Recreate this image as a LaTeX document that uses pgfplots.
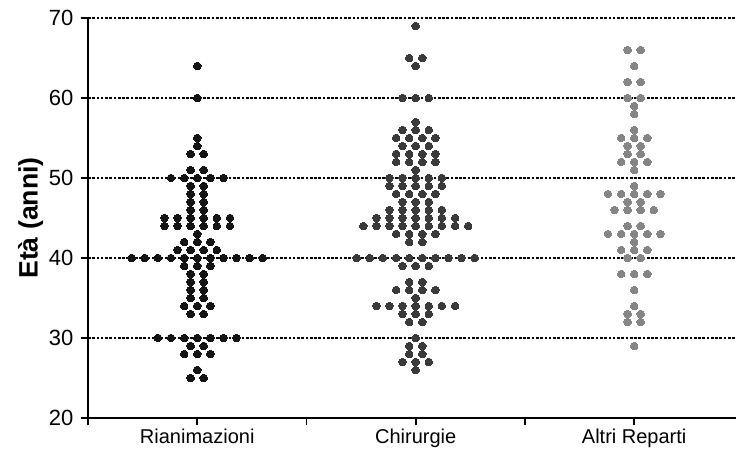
\documentclass[border=0pt]{standalone}
\usepackage{fontspec}
\setmainfont{Liberation Sans}
\usepackage{pgfplots}
\pgfplotsset{compat=1.18}
\definecolor{cA}{HTML}{141414}
\definecolor{cB}{HTML}{3A3A3A}
\definecolor{cC}{HTML}{858585}
\begin{document}
\begin{tikzpicture}
\begin{axis}[
  scale only axis, width=486pt, height=300pt,
  xmin=-0.5, xmax=2.466, ymin=20, ymax=70,
  axis x line*=bottom, axis y line*=left,
  axis line style={line width=1.3pt,-},
  tick style={line width=1.3pt,black},
  tick align=outside, major tick length=5.5pt,
  xtick={0,1,2}, xticklabels={Rianimazioni,Chirurgie,Altri Reparti},
  extra x ticks={-0.5,0.5,1.5}, extra x tick labels={},
  extra x tick style={grid=none},
  ytick={20,30,40,50,60,70},
  ymajorgrids, grid style={black,line width=0.9pt,dash pattern=on 2pt off 1.2pt},
  yticklabel style={font=\fontsize{16.5}{18}\selectfont, xshift=-2pt},
  xticklabel style={font=\fontsize{15}{17}\selectfont, yshift=1pt},
  /pgf/number format/assume math mode=true,
  ylabel={Età (anni)},
  every axis y label/.style={at={(rel axis cs:0,0.5)}, rotate=90, anchor=center, yshift=43pt, font=\bfseries\fontsize{20}{23}\selectfont},
  clip=false,
]
\coordinate (bl) at (rel axis cs:0,0);
\coordinate (tr) at (rel axis cs:1,1);
\addplot[only marks, mark=*, mark size=2.85pt, mark options={fill=cA, draw=cA, line width=0pt}] coordinates {
(0,64)(0,60)(0,55)(0,54)
(-0.03,53)(0.03,53)
(-0.03,51)(0.03,51)
(-0.12,50)(-0.06,50)(0,50)(0.06,50)(0.12,50)
(-0.03,49)(0.03,49)(-0.03,48)(0.03,48)(-0.03,47)(0.03,47)(-0.03,46)(0.03,46)
(-0.15,45)(-0.09,45)(-0.03,45)(0.03,45)(0.09,45)(0.15,45)
(-0.15,44)(-0.09,44)(-0.03,44)(0.03,44)(0.09,44)(0.15,44)
(0,43)
(-0.06,42)(0,42)(0.06,42)
(-0.09,41)(-0.03,41)(0.03,41)(0.09,41)
(-0.30,40)(-0.24,40)(-0.18,40)(-0.12,40)(-0.06,40)(0,40)(0.06,40)(0.12,40)(0.18,40)(0.24,40)(0.30,40)
(-0.06,39)(0,39)(0.06,39)
(-0.03,38)(0.03,38)(-0.03,37)(0.03,37)(-0.03,36)(0.03,36)(-0.03,35)(0.03,35)
(-0.06,34)(0,34)(0.06,34)
(-0.03,33)(0.03,33)
(-0.18,30)(-0.12,30)(-0.06,30)(0,30)(0.06,30)(0.12,30)(0.18,30)
(-0.03,29)(0.03,29)
(-0.06,28)(0,28)(0.06,28)
(0,26)
(-0.03,25)(0.03,25)
};
\addplot[only marks, mark=*, mark size=2.85pt, mark options={fill=cB, draw=cB, line width=0pt}] coordinates {
(1,69)
(0.97,65)(1.03,65)
(1,64)
(0.94,60)(1,60)(1.06,60)
(1,57)
(0.94,56)(1,56)(1.06,56)
(0.91,55)(0.97,55)(1.03,55)(1.09,55)
(0.94,54)(1,54)(1.06,54)
(0.91,53)(0.97,53)(1.03,53)(1.09,53)
(0.91,52)(0.97,52)(1.03,52)(1.09,52)
(1,51)
(0.88,50)(0.94,50)(1,50)(1.06,50)(1.12,50)
(0.88,49)(0.94,49)(1,49)(1.06,49)(1.12,49)
(0.91,48)(0.97,48)(1.03,48)(1.09,48)
(0.94,47)(1,47)(1.06,47)
(0.88,46)(0.94,46)(1,46)(1.06,46)(1.12,46)
(0.82,45)(0.88,45)(0.94,45)(1,45)(1.06,45)(1.12,45)(1.18,45)
(0.76,44)(0.82,44)(0.88,44)(0.94,44)(1,44)(1.06,44)(1.12,44)(1.18,44)(1.24,44)
(0.91,43)(0.97,43)(1.03,43)(1.09,43)
(0.97,42)(1.03,42)
(0.73,40)(0.79,40)(0.85,40)(0.91,40)(0.97,40)(1.03,40)(1.09,40)(1.15,40)(1.21,40)(1.27,40)
(0.94,39)(1,39)(1.06,39)
(0.97,37)(1.03,37)
(0.91,36)(0.97,36)(1.03,36)(1.09,36)
(1,35)
(0.82,34)(0.88,34)(0.94,34)(1,34)(1.06,34)(1.12,34)(1.18,34)
(0.94,33)(1,33)(1.06,33)
(0.97,32)(1.03,32)
(1,30)
(0.97,29)(1.03,29)
(0.97,28)(1.03,28)
(0.94,27)(1,27)(1.06,27)
(1,26)
};
\addplot[only marks, mark=*, mark size=2.85pt, mark options={fill=cC, draw=cC, line width=0pt}] coordinates {
(1.97,66)(2.03,66)
(2,64)
(1.97,62)(2.03,62)
(1.97,60)(2.03,60)
(2,59)
(2,58)
(2,56)
(1.94,55)(2,55)(2.06,55)
(1.97,54)(2.03,54)
(1.97,53)(2.03,53)
(1.94,52)(2,52)(2.06,52)
(2,51)
(2,49)
(1.88,48)(1.94,48)(2,48)(2.06,48)(2.12,48)
(1.97,47)(2.03,47)
(1.91,46)(1.97,46)(2.03,46)(2.09,46)
(1.97,44)(2.03,44)
(1.88,43)(1.94,43)(2,43)(2.06,43)(2.12,43)
(2,42)
(1.94,41)(2,41)(2.06,41)
(1.97,40)(2.03,40)
(1.94,38)(2,38)(2.06,38)
(2,36)
(2,34)
(1.97,33)(2.03,33)
(1.97,32)(2.03,32)
(2,29)
};
\end{axis}
\pgfresetboundingbox
\path ([xshift=-66pt,yshift=-24pt]bl) rectangle ([yshift=13.5pt]tr);
\end{tikzpicture}
\end{document}
